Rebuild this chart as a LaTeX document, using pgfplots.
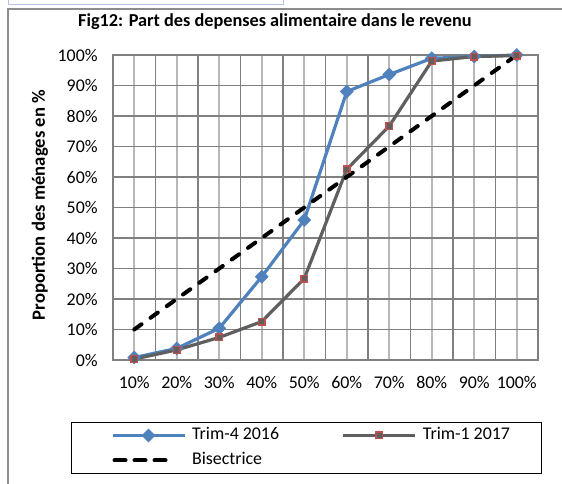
\documentclass[border=0pt]{standalone}
\usepackage{fontspec}
\setmainfont{Carlito}
\usepackage{pgfplots}
\pgfplotsset{compat=1.18}
\definecolor{blueS}{HTML}{4F81BD}
\definecolor{greyS}{HTML}{5F5F5F}
\definecolor{redM}{HTML}{C0504D}
\definecolor{gridD}{HTML}{808080}
\definecolor{gridL}{HTML}{B8B8B8}
\definecolor{frameC}{HTML}{8C8C8C}
\definecolor{boxTop}{HTML}{B4C3E6}
\newcommand{\fs}{\fontsize{13.4}{16}\selectfont}
\pgfplotsset{
  marklegend/.style={legend image code/.code={\path (-7.25pt,0pt); \draw[mark repeat=2,mark phase=2,#1] plot coordinates {(0pt,0pt) (27pt,0pt) (54pt,0pt)};}},
  dashlegend/.style={legend image code/.code={\path (-7.25pt,0pt); \draw[#1, dash pattern=on 8.25pt off 6.75pt] (1.5pt,0pt) -- (45pt,0pt);}},
}
\begin{document}
\begin{tikzpicture}[x=0.75pt,y=0.75pt]
\useasboundingbox (0,0) rectangle (562,484);
\draw[frameC, line width=1.5pt] (8,0) -- (8,475) -- (562,475);
\draw[boxTop, line width=0.75pt] (8,484) -- (8,479) -- (283,479) -- (283,484);
\coordinate (A) at (113,124);
\begin{axis}[
  at={(A)}, anchor=south west,
  scale only axis, width=318.75pt, height=228.75pt,
  xmin=0.5, xmax=10.5, ymin=0, ymax=100,
  xtick={1,2,3,4,5,6,7,8,9,10},
  xticklabels={10\%,20\%,30\%,40\%,50\%,60\%,70\%,80\%,90\%,100\%},
  minor xtick={0.5,1.5,2.5,3.5,4.5,5.5,6.5,7.5,8.5,9.5,10.5},
  ytick={0,10,20,30,40,50,60,70,80,90,100},
  yticklabels={0\%,10\%,20\%,30\%,40\%,50\%,60\%,70\%,80\%,90\%,100\%},
  major tick length=0pt, minor tick length=0pt,
  xmajorgrids, xminorgrids, ymajorgrids,
  major x grid style={gridL, line width=1.35pt},
  minor x grid style={gridD, line width=1.35pt},
  major y grid style={gridD, line width=1.35pt},
  axis line style={gridD, line width=1.35pt},
  ticklabel style={font=\fs},
  xticklabel style={yshift=-9pt},
  yticklabel style={xshift=-8pt},
  every axis title shift=0pt,
  title={\bfseries Fig12: Part des depenses alimentaire dans le revenu},
  title style={font=\fontsize{13.7}{16}\selectfont, at={(axis description cs:0.381,1.0918)}, anchor=base},
  ylabel={\bfseries Proportion des ménages en \%},
  ylabel style={font=\fontsize{14}{16}\selectfont, at={(axis description cs:-0.16,0.508)}, anchor=base, rotate=0},
  legend columns=2,
  legend cell align=left,
  legend style={at={(axis description cs:-0.0988,-0.2033)}, anchor=north west,
    draw=black, line width=0.75pt, fill=white, font=\fs,
    inner xsep=22pt, inner ysep=1.5pt, row sep=2.25pt,
    nodes={inner xsep=2pt, inner ysep=2pt, text height=9.5pt, text depth=3pt},
    /tikz/every odd column/.append style={column sep=2.5pt}},
  clip=false,
]
\addplot[blueS, line width=2.4pt, mark=square*, mark size=3.4pt,
  mark options={rotate=45, fill=blueS, draw=blueS, line width=0.5pt}, marklegend]
  coordinates {(1,0.8) (2,3.8) (3,10.4) (4,27.3) (5,45.9) (6,88.0) (7,93.6) (8,98.9) (9,99.5) (10,100)};
\addlegendentry{\makebox[103pt][l]{Trim-4 2016}}
\addplot[greyS, line width=2.4pt, mark=square*, mark size=2.5pt,
  mark options={fill=greyS, draw=redM, line width=1pt}, marklegend]
  coordinates {(1,0.3) (2,3.3) (3,7.4) (4,12.6) (5,26.7) (6,62.5) (7,76.7) (8,98.0) (9,99.5) (10,99.8)};
\addlegendentry{Trim-1 2017\hspace{4.5pt}}
\addplot[black, line width=3pt, line cap=round, dash pattern=on 6.75pt off 8.25pt, dashlegend]
  coordinates {(1,10) (10,100)};
\addlegendentry{Bisectrice}
\end{axis}
\end{tikzpicture}
\end{document}
